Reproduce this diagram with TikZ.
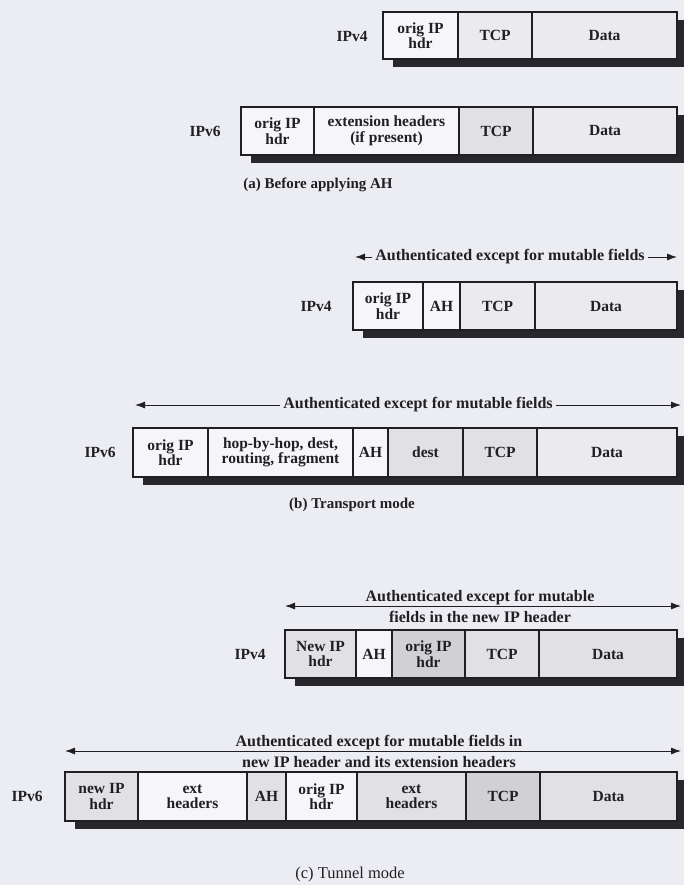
\documentclass[tikz,border=0pt]{standalone}
\usepackage{fontspec}
\setmainfont{Liberation Serif}
\usetikzlibrary{arrows.meta}
\definecolor{bg}{RGB}{236,236,243}
\definecolor{ink}{RGB}{32,32,34}
\definecolor{shade}{RGB}{40,40,44}
\definecolor{c0}{RGB}{246,246,249}
\definecolor{c1}{RGB}{234,234,239}
\definecolor{c2}{RGB}{224,224,229}
\definecolor{c3}{RGB}{208,208,213}
\tikzset{
  cell/.style={draw=ink, line width=1.3pt, fill=c0, anchor=north west, inner sep=0pt, outer sep=0pt,
    align=center, font=\fontsize{15.5}{15.5}\selectfont\bfseries, text=ink},
  tag/.style={font=\fontsize{15.5}{15.5}\selectfont\bfseries, text=ink, inner sep=0pt},
  auth/.style={font=\fontsize{16}{21}\selectfont\bfseries, text=ink, align=center, inner sep=0pt},
  authgap/.style={auth, fill=bg, inner xsep=3pt, inner ysep=1pt},
  dbl/.style={draw=ink, line width=0.9pt, -{Latex[length=10pt,width=7pt]}},
  dblboth/.style={draw=ink, line width=0.9pt, {Latex[length=10pt,width=7pt]}-{Latex[length=10pt,width=7pt]}},
  shadowbar/.style={fill=shade},
  capt/.style={font=\fontsize{15}{15}\selectfont, text=ink, inner sep=0pt}
}
\begin{document}
\begin{tikzpicture}[x=1pt,y=-1pt]
\fill[bg] (0,0) rectangle (684,885);
\useasboundingbox (0,0) rectangle (684,885);

% ---------- (a) Before applying AH ----------
\node[tag] (a4lab) at (352,36) {IPv4};
\fill[shadowbar] (393,20) rectangle (684,67);
\node[cell, minimum width=75pt, minimum height=47pt] (a4ip) at (383,12) {orig IP\\hdr};
\node[cell, minimum width=74pt, minimum height=47pt, fill=c1] (a4tcp) at (458,12) {TCP};
\node[cell, minimum width=145pt, minimum height=47pt, fill=c1] (a4data) at (532,12) {Data};

\node[tag] (a6lab) at (205,131) {IPv6};
\fill[shadowbar] (251,115) rectangle (684,163);
\node[cell, minimum width=73pt, minimum height=48pt] (a6ip) at (241,107) {orig IP\\hdr};
\node[cell, minimum width=145pt, minimum height=48pt] (a6ext) at (314,107) {extension headers\\(if present)};
\node[cell, minimum width=74pt, minimum height=48pt, fill=c2] (a6tcp) at (459,107) {TCP};
\node[cell, minimum width=144pt, minimum height=48pt, fill=c1] (a6data) at (533,107) {Data};

\node[capt, font=\fontsize{15}{15}\selectfont\bfseries] (capa) at (318,185) {(a) Before applying AH};

% ---------- (b) Transport mode ----------
\coordinate (b4l) at (355,257);
\coordinate (b4r) at (677,257);
\node[authgap] (b4auth) at (510,257) {Authenticated except for mutable fields};
\draw[dbl] (b4auth.west) -- (b4l);
\draw[dbl] (b4auth.east) -- (b4r);

\node[tag] (b4lab) at (316,306) {IPv4};
\fill[shadowbar] (363,290) rectangle (684,338);
\node[cell, minimum width=70pt, minimum height=48pt] (b4ip) at (353,282) {orig IP\\hdr};
\node[cell, minimum width=37pt, minimum height=48pt] (b4ah) at (423,282) {AH};
\node[cell, minimum width=75pt, minimum height=48pt, fill=c1] (b4tcp) at (460,282) {TCP};
\node[cell, minimum width=142pt, minimum height=48pt, fill=c1] (b4data) at (535,282) {Data};

\coordinate (b6l) at (135,405);
\coordinate (b6r) at (681,405);
\node[authgap] (b6auth) at (418,405) {Authenticated except for mutable fields};
\draw[dbl] (b6auth.west) -- (b6l);
\draw[dbl] (b6auth.east) -- (b6r);

\node[tag] (b6lab) at (100,452) {IPv6};
\fill[shadowbar] (143,436) rectangle (684,485);
\node[cell, minimum width=75pt, minimum height=49pt] (b6ip) at (133,428) {orig IP\\hdr};
\node[cell, minimum width=145pt, minimum height=49pt] (b6hop) at (208,428) {hop-by-hop, dest,\\routing, fragment};
\node[cell, minimum width=35pt, minimum height=49pt] (b6ah) at (353,428) {AH};
\node[cell, minimum width=75pt, minimum height=49pt, fill=c2] (b6dest) at (388,428) {dest};
\node[cell, minimum width=74pt, minimum height=49pt, fill=c2] (b6tcp) at (463,428) {TCP};
\node[cell, minimum width=140pt, minimum height=49pt, fill=c1] (b6data) at (537,428) {Data};

\node[capt, font=\fontsize{15}{15}\selectfont\bfseries] (capb) at (352,505) {(b) Transport mode};

% ---------- (c) Tunnel mode ----------
\coordinate (c4l) at (285,606);
\coordinate (c4r) at (681,606);
\draw[dblboth] (c4l) -- (c4r);
\node[auth] (c4auth) at (480,606) {Authenticated except for mutable\\fields in the new IP header};

\node[tag] (c4lab) at (250,654) {IPv4};
\fill[shadowbar] (295,638) rectangle (684,686);
\node[cell, minimum width=71pt, minimum height=48pt, fill=c2] (c4new) at (285,630) {New IP\\hdr};
\node[cell, minimum width=36pt, minimum height=48pt, fill=c0] (c4ah) at (356,630) {AH};
\node[cell, minimum width=73pt, minimum height=48pt, fill=c3] (c4ip) at (392,630) {orig IP\\hdr};
\node[cell, minimum width=74pt, minimum height=48pt, fill=c2] (c4tcp) at (465,630) {TCP};
\node[cell, minimum width=138pt, minimum height=48pt, fill=c2] (c4data) at (539,630) {Data};

\coordinate (c6l) at (65,751);
\coordinate (c6r) at (681,751);
\draw[dblboth] (c6l) -- (c6r);
\node[auth] (c6auth) at (379,751) {Authenticated except for mutable fields in\\new IP header and its extension headers};

\node[tag] (c6lab) at (27,796) {IPv6};
\fill[shadowbar] (75,780) rectangle (684,829);
\node[cell, minimum width=73pt, minimum height=49pt, fill=c2] (c6new) at (65,772) {new IP\\hdr};
\node[cell, minimum width=109pt, minimum height=49pt, fill=c0] (c6ext1) at (138,772) {ext\\headers};
\node[cell, minimum width=39pt, minimum height=49pt, fill=c2] (c6ah) at (247,772) {AH};
\node[cell, minimum width=71pt, minimum height=49pt, fill=c0] (c6ip) at (286,772) {orig IP\\hdr};
\node[cell, minimum width=109pt, minimum height=49pt, fill=c2] (c6ext2) at (357,772) {ext\\headers};
\node[cell, minimum width=74pt, minimum height=49pt, fill=c3] (c6tcp) at (466,772) {TCP};
\node[cell, minimum width=137pt, minimum height=49pt, fill=c2] (c6data) at (540,772) {Data};

\node[capt, font=\fontsize{16.5}{16.5}\selectfont] (capc) at (350,875) {(c) Tunnel mode};
\end{tikzpicture}
\end{document}
